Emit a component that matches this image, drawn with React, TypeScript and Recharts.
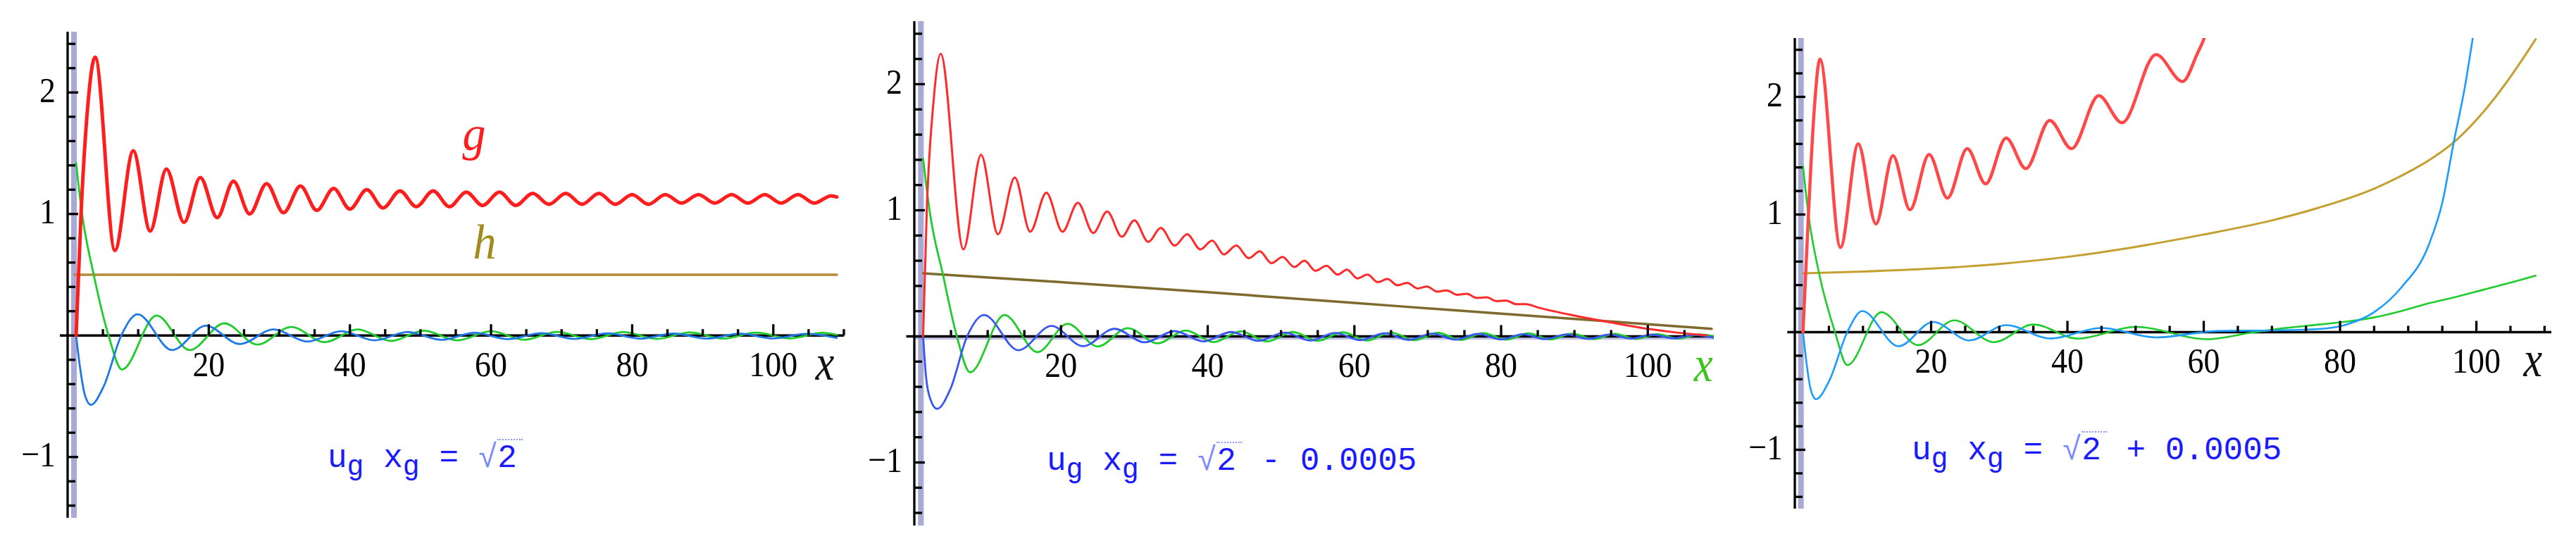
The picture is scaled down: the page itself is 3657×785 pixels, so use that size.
import React from 'react'
import { LineChart, Line, XAxis, YAxis, ReferenceLine, ReferenceDot } from 'recharts'

type Pt = [number, number]

// ---- panel 1: u_g x_g = sqrt(2) ----
const g1: Pt[] = [
  [1.2, 0], [1.9, 1.0], [2.8, 1.85], [3.9, 2.29], [6.7, 0.7], [9.3, 1.52], [11.7, 0.86], [14.0, 1.37],
  [16.5, 0.93], [18.8, 1.3], [21.2, 0.97], [23.5, 1.27], [25.8, 1.0], [28.2, 1.25], [30.6, 1.01],
  [33.0, 1.23], [35.3, 1.03], [37.7, 1.21], [40.0, 1.04], [42.4, 1.2], [44.7, 1.05], [47.1, 1.19],
  [49.4, 1.06], [51.8, 1.19], [54.1, 1.06], [56.5, 1.18], [58.8, 1.07], [61.2, 1.18], [63.5, 1.07],
  [65.9, 1.17], [68.2, 1.08], [70.6, 1.17], [72.9, 1.08], [75.3, 1.17], [77.6, 1.08], [80.0, 1.16],
  [82.3, 1.08], [84.7, 1.16], [87.0, 1.09], [89.4, 1.16], [91.7, 1.09], [94.1, 1.16], [96.4, 1.09],
  [98.8, 1.16], [101.1, 1.09], [103.5, 1.16], [105.8, 1.09], [108.2, 1.15], [109.0, 1.14],
]
const h1: Pt[] = [[1.0, 0.5], [109.0, 0.5]]
const green1: Pt[] = [
  [1.2, 1.42], [2.0, 1.02], [3.7, 0.5], [5.8, 0.0], [7.7, -0.28], [12.6, 0.165], [17.3, -0.12],
  [22.2, 0.1], [26.9, -0.075], [31.7, 0.07], [36.4, -0.055], [41.1, 0.05], [45.8, -0.045], [50.5, 0.04],
  [55.2, -0.04], [60.0, 0.035], [64.7, -0.035], [69.4, 0.03], [74.1, -0.03], [78.8, 0.028], [83.5, -0.028],
  [88.2, 0.025], [92.9, -0.025], [97.6, 0.024], [102.3, -0.024], [107.0, 0.022], [109.0, 0.005],
]
const blue1: Pt[] = [
  [1.2, 0], [1.8, -0.28], [2.4, -0.48], [3.3, -0.57], [5.1, -0.42], [7.6, 0.0], [9.9, 0.175], [14.8, -0.12],
  [19.6, 0.08], [24.4, -0.07], [29.2, 0.05], [34.0, -0.05], [38.8, 0.035], [43.5, -0.04], [48.2, 0.028],
  [53.0, -0.035], [57.7, 0.022], [62.4, -0.03], [67.1, 0.02], [71.8, -0.028], [76.5, 0.018], [81.2, -0.026],
  [85.9, 0.016], [90.6, -0.025], [95.3, 0.015], [100.0, -0.024], [104.7, 0.014], [109.0, -0.02],
]

// ---- panel 2: u_g x_g = sqrt(2) - 0.0005 ----
const g2: Pt[] = [
  [1.2, 0], [1.7, 1.0], [2.6, 1.85], [3.6, 2.24], [6.7, 0.69], [9.1, 1.44], [11.4, 0.81], [13.7, 1.26],
  [15.8, 0.83], [18.0, 1.14], [20.2, 0.83], [22.3, 1.06], [24.4, 0.82], [26.3, 0.99], [28.3, 0.79],
  [30.0, 0.92], [31.9, 0.75], [33.6, 0.86], [35.5, 0.72], [37.2, 0.81], [39.0, 0.69], [40.6, 0.76],
  [42.2, 0.65], [43.9, 0.72], [45.6, 0.62], [47.1, 0.675], [48.7, 0.58], [50.2, 0.63], [51.8, 0.55],
  [53.2, 0.6], [54.7, 0.52], [56.2, 0.56], [57.7, 0.49], [59.0, 0.53], [60.4, 0.46], [61.8, 0.49],
  [63.2, 0.43], [64.5, 0.455], [65.9, 0.405], [67.2, 0.425], [68.6, 0.38], [69.9, 0.395], [71.3, 0.355],
  [72.6, 0.365], [74.0, 0.33], [75.3, 0.338], [76.7, 0.305], [78.0, 0.31], [79.4, 0.28], [80.7, 0.283],
  [82.1, 0.255], [83.4, 0.256], [85.0, 0.23], [90.0, 0.165], [95.0, 0.11], [100.0, 0.06], [104.0, 0.03],
  [108.0, 0.008],
]
const h2: Pt[] = [[1.2, 0.5], [20, 0.43], [40, 0.35], [60, 0.265], [80, 0.18], [100, 0.097], [108.7, 0.06]]
const green2: Pt[] = [
  [1.2, 1.41], [2.1, 0.99], [3.9, 0.49], [5.8, 0.0], [7.6, -0.285], [12.3, 0.17], [16.8, -0.125],
  [20.9, 0.1], [25.0, -0.08], [29.1, 0.065], [33.2, -0.055], [37.0, 0.047], [40.8, -0.045], [44.5, 0.04],
  [48.1, -0.04], [51.6, 0.035], [55.0, -0.036], [58.4, 0.032], [61.7, -0.033], [65.0, 0.03], [68.2, -0.03],
  [71.4, 0.028], [74.5, -0.028], [77.6, 0.026], [80.7, -0.026], [83.7, 0.024], [86.7, -0.024], [89.7, 0.022],
  [92.6, -0.022], [95.5, 0.02], [98.4, -0.02], [101.3, 0.018], [104.2, -0.018], [107.0, 0.016], [109.0, 0.0],
]
const blue2: Pt[] = [
  [1.2, 0], [1.6, -0.32], [2.2, -0.5], [3.1, -0.575], [4.9, -0.42], [7.2, 0.0], [9.5, 0.17], [14.2, -0.11],
  [18.7, 0.083], [23.0, -0.078], [27.3, 0.06], [31.4, -0.047], [35.5, 0.042], [39.4, -0.04], [43.2, 0.035],
  [46.9, -0.036], [50.5, 0.03], [54.0, -0.033], [57.4, 0.027], [60.8, -0.03], [64.1, 0.025], [67.4, -0.028],
  [70.6, 0.022], [73.8, -0.026], [76.9, 0.02], [80.0, -0.024], [83.0, 0.018], [86.0, -0.022], [89.0, 0.016],
  [91.9, -0.02], [94.8, 0.015], [97.7, -0.018], [100.6, 0.014], [103.5, -0.016], [106.3, 0.012], [109.0, -0.01],
]

// ---- panel 3: u_g x_g = sqrt(2) + 0.0005 ----
const g3: Pt[] = [
  [1.2, 0], [2.0, 1.0], [2.8, 1.85], [3.7, 2.32], [6.7, 0.72], [9.3, 1.6], [11.9, 0.92], [14.4, 1.5],
  [16.9, 1.04], [19.7, 1.51], [22.4, 1.14], [25.3, 1.56], [28.0, 1.26], [31.0, 1.65], [33.9, 1.39],
  [37.4, 1.8], [40.6, 1.56], [44.6, 2.01], [48.0, 1.78], [53.0, 2.36], [56.9, 2.13], [59.0, 2.36],
  [60.2, 2.52], [61.0, 2.68],
]
const h3: Pt[] = [
  [1.2, 0.5], [10, 0.515], [20, 0.54], [30, 0.58], [40, 0.64], [50, 0.725], [60, 0.83], [70, 0.95],
  [77, 1.06], [85, 1.22], [90, 1.36], [93, 1.46], [97, 1.63], [101, 1.87], [105, 2.17], [108.7, 2.49],
]
const green3: Pt[] = [
  [1.2, 1.41], [2.0, 1.0], [3.6, 0.49], [5.9, 0.0], [7.7, -0.28], [12.7, 0.17], [18.1, -0.11], [23.4, 0.1],
  [29.2, -0.085], [35.0, 0.065], [41.5, -0.055], [50.0, 0.045], [60.5, -0.06], [67.4, 0.0], [72.0, 0.035],
  [77.0, 0.065], [81.0, 0.09], [85.0, 0.125], [89.0, 0.18], [93.0, 0.245], [97.0, 0.3], [101.0, 0.36],
  [105.0, 0.42], [108.7, 0.48],
]
const blue3: Pt[] = [
  [1.2, 0], [1.8, -0.3], [2.3, -0.48], [3.1, -0.57], [5.0, -0.42], [7.7, 0.0], [9.9, 0.18], [15.2, -0.12],
  [20.3, 0.087], [25.6, -0.07], [31.0, 0.06], [37.5, -0.054], [45.0, 0.036], [53.0, -0.045], [62.0, 0.01],
  [70.0, 0.015], [77.0, 0.027], [81.0, 0.066], [85.0, 0.17], [89.0, 0.38], [93.0, 0.74], [95.0, 1.1],
  [96.7, 1.62], [98.3, 2.08], [99.5, 2.51], [100.3, 2.8],
]

const xTicks = [5, 10, 15, 20, 25, 30, 35, 40, 45, 50, 55, 60, 65, 70, 75, 80, 85, 90, 95, 100, 105, 110]
const yTicks = [-1.4, -1.2, -1, -0.8, -0.6, -0.4, -0.2, 0.2, 0.4, 0.6, 0.8, 1, 1.2, 1.4, 1.6, 1.8, 2, 2.2, 2.4]
const yDomain: [number, number] = [-1.5, 2.5]

const SERIF = '"Liberation Serif", "Times New Roman", serif'
const MONO = '"Liberation Mono", "Courier New", monospace'
const H = 785

const toRows = (pts: Pt[]) => pts.map(([x, y]) => ({ x, y }))

type Curve = { pts: Pt[]; color: string; width: number }
type Note = { x: number; y: number; text: string; color: string; size: number; stretch: number }

interface PanelProps {
  left: number
  width: number
  margin: { top: number; right: number; bottom: number; left: number }
  xMax: number
  curves: Curve[]
  notes: Note[]
  formulaLeft: number
  formulaBaseline: number
  formulaTail: string
  xBand?: boolean
}

const sub: React.CSSProperties = { fontSize: 40, verticalAlign: -11 }

function Formula({ left, baseline, tail }: { left: number; baseline: number; tail: string }) {
  return (
    <div
      style={{
        position: 'absolute', left, top: baseline - 35, fontFamily: MONO, fontSize: 46,
        lineHeight: 1, color: '#1a1aff', whiteSpace: 'pre',
      }}
    >
      u<span style={sub}>g</span> x<span style={sub}>g</span> = <span style={{ color: '#7b88ff' }}>√</span>
      <span style={{ borderTop: '2px dotted #8c96ff', paddingRight: 8 }}>2</span>
      {tail}
    </div>
  )
}

// tick label, slightly stretched vertically like the original raster
function TickText({ x, y, anchor, children }: { x: number; y: number; anchor: 'middle' | 'end'; children: React.ReactNode }) {
  return (
    <g transform={`translate(${x} ${y}) scale(1 1.12)`}>
      <text x={0} y={0} textAnchor={anchor} dominantBaseline="central" fontFamily={SERIF} fontSize={46} fill="#000">
        {children}
      </text>
    </g>
  )
}

function Panel(p: PanelProps) {
  const plotTop = p.margin.top
  const plotH = H - p.margin.top - p.margin.bottom - 1
  const zeroY = plotTop + (plotH * yDomain[1]) / (yDomain[1] - yDomain[0])
  const plotLeft = p.margin.left + 1

  const renderXTick = (t: any) => {
    const v = t.payload.value
    const major = v % 20 === 0
    return (
      <g>
        <line x1={t.x} x2={t.x} y1={zeroY} y2={zeroY - (major ? 16 : 9)} stroke="#000" strokeWidth={3.3} />
        {major && <TickText x={t.x} y={zeroY + 40} anchor="middle">{v}</TickText>}
      </g>
    )
  }

  const renderYTick = (t: any) => {
    const v = t.payload.value
    const major = Math.abs(v - Math.round(v)) < 1e-6
    return (
      <g>
        <line x1={plotLeft} x2={plotLeft + (major ? 15 : 11)} y1={t.y} y2={t.y} stroke="#000" strokeWidth={3.3} />
        {major && (
          <TickText x={plotLeft - 17} y={t.y - 4} anchor="end">
            {v < 0 ? '\u2212' + Math.abs(Math.round(v)) : Math.round(v)}
          </TickText>
        )}
      </g>
    )
  }

  return (
    <div style={{ position: 'absolute', left: p.left, top: 0, width: p.width, height: H }}>
      <LineChart width={p.width} height={H} margin={p.margin}>
        <XAxis
          type="number" dataKey="x" domain={[0, p.xMax]} allowDataOverflow
          ticks={xTicks.filter((t) => t <= p.xMax)} tick={renderXTick} interval={0}
          tickLine={false} axisLine={false} tickSize={0} tickMargin={0} height={1}
        />
        <YAxis
          type="number" domain={yDomain} allowDataOverflow ticks={yTicks} tick={renderYTick} interval={0}
          tickLine={false} axisLine={{ stroke: '#000', strokeWidth: 3.3 }} tickSize={0} tickMargin={0} width={1}
        />
        <ReferenceLine x={0.9} stroke="#6262b4" strokeOpacity={0.55} strokeWidth={8} />
        {p.xBand && <ReferenceLine y={-0.012} stroke="#8c8cd0" strokeOpacity={0.5} strokeWidth={5} />}
        <ReferenceLine
          segment={[{ x: -1.1, y: 0 }, { x: p.xMax, y: 0 }]}
          stroke="#000" strokeWidth={3.3} ifOverflow="visible"
        />
        {p.curves.map((c, i) => (
          <Line
            key={i} data={toRows(c.pts)} dataKey="y" type="monotone" stroke={c.color} strokeWidth={c.width}
            strokeLinecap="round" strokeLinejoin="round" dot={false} activeDot={false} isAnimationActive={false}
          />
        ))}
        {p.notes.map((n, i) => (
          <ReferenceDot
            key={'n' + i} x={n.x} y={n.y} r={0} stroke="none" fill="none"
            label={(lp: any) => {
              const vb = lp.viewBox || { x: 0, y: 0, width: 0, height: 0 }
              const cx = vb.x + (vb.width || 0) / 2
              const cy = vb.y + (vb.height || 0) / 2
              return (
                <g transform={`translate(${cx} ${cy}) scale(1 ${n.stretch})`}>
                  <text
                    x={0} y={0} textAnchor="middle" dominantBaseline="central" fontFamily={SERIF}
                    fontStyle="italic" fontSize={n.size} fill={n.color}
                  >
                    {n.text}
                  </text>
                </g>
              )
            }}
          />
        ))}
      </LineChart>
      <Formula left={p.formulaLeft} baseline={p.formulaBaseline} tail={p.formulaTail} />
    </div>
  )
}

export default function App() {
  return (
    <div style={{ position: 'absolute', left: 0, top: 0, width: 3657, height: H, background: '#fff', overflow: 'hidden' }}>
      <Panel
        left={0} width={1220} margin={{ top: 45, right: 22, bottom: 49, left: 95 }} xMax={110}
        curves={[
          { pts: h1, color: '#b8893a', width: 3.5 },
          { pts: green1, color: '#1ecc2c', width: 2.8 },
          { pts: blue1, color: '#1f78e6', width: 2.8 },
          { pts: g1, color: '#ff1e1e', width: 5 },
        ]}
        notes={[
          { x: 57.6, y: 1.66, text: 'g', color: '#ff1e1e', size: 66, stretch: 1.05 },
          { x: 59.1, y: 0.765, text: 'h', color: '#a38b1d', size: 66, stretch: 1.05 },
          { x: 107.3, y: -0.22, text: 'x', color: '#111', size: 60, stretch: 1.2 },
        ]}
        formulaLeft={465} formulaBaseline={663} formulaTail=""
      />
      <Panel
        left={1220} width={1220} margin={{ top: 30, right: 7, bottom: 38, left: 77 }} xMax={109} xBand
        curves={[
          { pts: h2, color: '#7d6a2c', width: 3.5 },
          { pts: green2, color: '#1ecc2c', width: 2.8 },
          { pts: blue2, color: '#3a56f0', width: 2.8 },
          { pts: g2, color: '#ff2a2a', width: 3 },
        ]}
        notes={[{ x: 107.6, y: -0.22, text: 'x', color: '#3cc41c', size: 60, stretch: 1.2 }]}
        formulaLeft={266} formulaBaseline={667} formulaTail=" - 0.0005"
      />
      <Panel
        left={2440} width={1217} margin={{ top: 54, right: 35, bottom: 62, left: 107 }} xMax={111}
        curves={[
          { pts: h3, color: '#c4a030', width: 3 },
          { pts: green3, color: '#1ecc2c', width: 2.6 },
          { pts: blue3, color: '#1a9cff', width: 2.6 },
          { pts: g3, color: '#ff4848', width: 4.5 },
        ]}
        notes={[{ x: 108.3, y: -0.23, text: 'x', color: '#111', size: 60, stretch: 1.2 }]}
        formulaLeft={274} formulaBaseline={652} formulaTail=" + 0.0005"
      />
    </div>
  )
}
